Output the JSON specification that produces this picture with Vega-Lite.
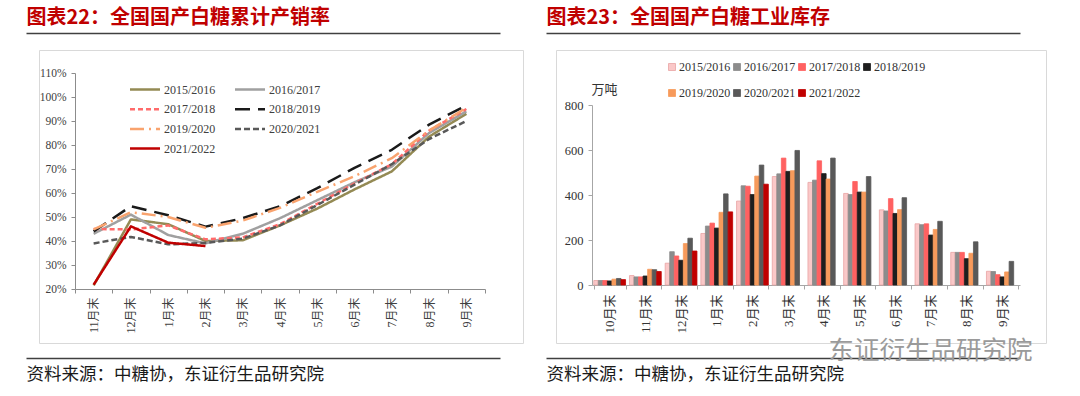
{
  "$schema": "https://vega.github.io/schema/vega-lite/v6.json",
  "background": "white",
  "padding": {"left": 22, "top": 6, "right": 5, "bottom": 5},
  "autosize": {"type": "pad"},
  "bounds": "flush",
  "spacing": 33,
  "resolve": {
    "scale": {"color": "independent", "stroke": "independent", "strokeDash": "independent", "strokeWidth": "independent"},
    "legend": {"color": "independent", "stroke": "independent", "strokeDash": "independent", "strokeWidth": "independent"}
  },
  "config": {
    "view": {"stroke": "#D9D9D9", "strokeWidth": 1},
    "axis": {"grid": false, "labelFont": "Liberation Serif", "titleFont": "Noto Sans CJK SC", "domainColor": "#8c8c8c", "tickColor": "#8c8c8c", "labelColor": "#404040", "tickSize": 4}
  },
  "datasets": {
    "rng": [{"r": 0}, {"r": 1}],
    "line": [
      {"s": "2015/2016", "m": "11月末", "v": 21.5}, {"s": "2015/2016", "m": "12月末", "v": 49}, {"s": "2015/2016", "m": "1月末", "v": 47}, {"s": "2015/2016", "m": "2月末", "v": 40}, {"s": "2015/2016", "m": "3月末", "v": 40.3}, {"s": "2015/2016", "m": "4月末", "v": 46.5}, {"s": "2015/2016", "m": "5月末", "v": 53.5}, {"s": "2015/2016", "m": "6月末", "v": 61.5}, {"s": "2015/2016", "m": "7月末", "v": 69}, {"s": "2015/2016", "m": "8月末", "v": 83.5}, {"s": "2015/2016", "m": "9月末", "v": 93},
      {"s": "2016/2017", "m": "11月末", "v": 43}, {"s": "2016/2017", "m": "12月末", "v": 51}, {"s": "2016/2017", "m": "1月末", "v": 42.5}, {"s": "2016/2017", "m": "2月末", "v": 39}, {"s": "2016/2017", "m": "3月末", "v": 43}, {"s": "2016/2017", "m": "4月末", "v": 49.5}, {"s": "2016/2017", "m": "5月末", "v": 57}, {"s": "2016/2017", "m": "6月末", "v": 64.5}, {"s": "2016/2017", "m": "7月末", "v": 71}, {"s": "2016/2017", "m": "8月末", "v": 85}, {"s": "2016/2017", "m": "9月末", "v": 94},
      {"s": "2017/2018", "m": "11月末", "v": 45}, {"s": "2017/2018", "m": "12月末", "v": 44.8}, {"s": "2017/2018", "m": "1月末", "v": 46.5}, {"s": "2017/2018", "m": "2月末", "v": 40.7}, {"s": "2017/2018", "m": "3月末", "v": 41.5}, {"s": "2017/2018", "m": "4月末", "v": 47}, {"s": "2017/2018", "m": "5月末", "v": 55.5}, {"s": "2017/2018", "m": "6月末", "v": 64}, {"s": "2017/2018", "m": "7月末", "v": 72}, {"s": "2017/2018", "m": "8月末", "v": 86}, {"s": "2017/2018", "m": "9月末", "v": 95},
      {"s": "2018/2019", "m": "11月末", "v": 44}, {"s": "2018/2019", "m": "12月末", "v": 54.5}, {"s": "2018/2019", "m": "1月末", "v": 50.7}, {"s": "2018/2019", "m": "2月末", "v": 46}, {"s": "2018/2019", "m": "3月末", "v": 49.5}, {"s": "2018/2019", "m": "4月末", "v": 54.5}, {"s": "2018/2019", "m": "5月末", "v": 62}, {"s": "2018/2019", "m": "6月末", "v": 70.5}, {"s": "2018/2019", "m": "7月末", "v": 78}, {"s": "2018/2019", "m": "8月末", "v": 88.5}, {"s": "2018/2019", "m": "9月末", "v": 96.5},
      {"s": "2019/2020", "m": "11月末", "v": 44.8}, {"s": "2019/2020", "m": "12月末", "v": 52}, {"s": "2019/2020", "m": "1月末", "v": 50}, {"s": "2019/2020", "m": "2月末", "v": 45.5}, {"s": "2019/2020", "m": "3月末", "v": 48.5}, {"s": "2019/2020", "m": "4月末", "v": 53.8}, {"s": "2019/2020", "m": "5月末", "v": 60.5}, {"s": "2019/2020", "m": "6月末", "v": 67}, {"s": "2019/2020", "m": "7月末", "v": 74.5}, {"s": "2019/2020", "m": "8月末", "v": 86}, {"s": "2019/2020", "m": "9月末", "v": 95.5},
      {"s": "2020/2021", "m": "11月末", "v": 39}, {"s": "2020/2021", "m": "12月末", "v": 41.7}, {"s": "2020/2021", "m": "1月末", "v": 38.6}, {"s": "2020/2021", "m": "2月末", "v": 39.2}, {"s": "2020/2021", "m": "3月末", "v": 41}, {"s": "2020/2021", "m": "4月末", "v": 46.5}, {"s": "2020/2021", "m": "5月末", "v": 55}, {"s": "2020/2021", "m": "6月末", "v": 63.5}, {"s": "2020/2021", "m": "7月末", "v": 72}, {"s": "2020/2021", "m": "8月末", "v": 82.5}, {"s": "2020/2021", "m": "9月末", "v": 90},
      {"s": "2021/2022", "m": "11月末", "v": 21.8}, {"s": "2021/2022", "m": "12月末", "v": 46.1}, {"s": "2021/2022", "m": "1月末", "v": 39.3}, {"s": "2021/2022", "m": "2月末", "v": 37.9}
    ],
    "bar": [
      {"s": "2015/2016", "m": "10月末", "v": 20}, {"s": "2016/2017", "m": "10月末", "v": 20}, {"s": "2017/2018", "m": "10月末", "v": 20}, {"s": "2018/2019", "m": "10月末", "v": 18}, {"s": "2019/2020", "m": "10月末", "v": 26}, {"s": "2020/2021", "m": "10月末", "v": 29}, {"s": "2021/2022", "m": "10月末", "v": 24},
      {"s": "2015/2016", "m": "11月末", "v": 42}, {"s": "2016/2017", "m": "11月末", "v": 36}, {"s": "2017/2018", "m": "11月末", "v": 36}, {"s": "2018/2019", "m": "11月末", "v": 40}, {"s": "2019/2020", "m": "11月末", "v": 70}, {"s": "2020/2021", "m": "11月末", "v": 68}, {"s": "2021/2022", "m": "11月末", "v": 60},
      {"s": "2015/2016", "m": "12月末", "v": 97}, {"s": "2016/2017", "m": "12月末", "v": 148}, {"s": "2017/2018", "m": "12月末", "v": 129}, {"s": "2018/2019", "m": "12月末", "v": 110}, {"s": "2019/2020", "m": "12月末", "v": 184}, {"s": "2020/2021", "m": "12月末", "v": 208}, {"s": "2021/2022", "m": "12月末", "v": 151},
      {"s": "2015/2016", "m": "1月末", "v": 229}, {"s": "2016/2017", "m": "1月末", "v": 262}, {"s": "2017/2018", "m": "1月末", "v": 275}, {"s": "2018/2019", "m": "1月末", "v": 253}, {"s": "2019/2020", "m": "1月末", "v": 323}, {"s": "2020/2021", "m": "1月末", "v": 405}, {"s": "2021/2022", "m": "1月末", "v": 325},
      {"s": "2015/2016", "m": "2月末", "v": 373}, {"s": "2016/2017", "m": "2月末", "v": 441}, {"s": "2017/2018", "m": "2月末", "v": 439}, {"s": "2018/2019", "m": "2月末", "v": 402}, {"s": "2019/2020", "m": "2月末", "v": 484}, {"s": "2020/2021", "m": "2月末", "v": 533}, {"s": "2021/2022", "m": "2月末", "v": 448},
      {"s": "2015/2016", "m": "3月末", "v": 482}, {"s": "2016/2017", "m": "3月末", "v": 494}, {"s": "2017/2018", "m": "3月末", "v": 564}, {"s": "2018/2019", "m": "3月末", "v": 505}, {"s": "2019/2020", "m": "3月末", "v": 508}, {"s": "2020/2021", "m": "3月末", "v": 598},
      {"s": "2015/2016", "m": "4月末", "v": 456}, {"s": "2016/2017", "m": "4月末", "v": 466}, {"s": "2017/2018", "m": "4月末", "v": 552}, {"s": "2018/2019", "m": "4月末", "v": 495}, {"s": "2019/2020", "m": "4月末", "v": 471}, {"s": "2020/2021", "m": "4月末", "v": 564},
      {"s": "2015/2016", "m": "5月末", "v": 407}, {"s": "2016/2017", "m": "5月末", "v": 402}, {"s": "2017/2018", "m": "5月末", "v": 460}, {"s": "2018/2019", "m": "5月末", "v": 413}, {"s": "2019/2020", "m": "5月末", "v": 413}, {"s": "2020/2021", "m": "5月末", "v": 482},
      {"s": "2015/2016", "m": "6月末", "v": 334}, {"s": "2016/2017", "m": "6月末", "v": 329}, {"s": "2017/2018", "m": "6月末", "v": 384}, {"s": "2018/2019", "m": "6月末", "v": 318}, {"s": "2019/2020", "m": "6月末", "v": 335}, {"s": "2020/2021", "m": "6月末", "v": 388},
      {"s": "2015/2016", "m": "7月末", "v": 272}, {"s": "2016/2017", "m": "7月末", "v": 268}, {"s": "2017/2018", "m": "7月末", "v": 272}, {"s": "2018/2019", "m": "7月末", "v": 222}, {"s": "2019/2020", "m": "7月末", "v": 247}, {"s": "2020/2021", "m": "7月末", "v": 283},
      {"s": "2015/2016", "m": "8月末", "v": 145}, {"s": "2016/2017", "m": "8月末", "v": 145}, {"s": "2017/2018", "m": "8月末", "v": 145}, {"s": "2018/2019", "m": "8月末", "v": 117}, {"s": "2019/2020", "m": "8月末", "v": 141}, {"s": "2020/2021", "m": "8月末", "v": 192},
      {"s": "2015/2016", "m": "9月末", "v": 61}, {"s": "2016/2017", "m": "9月末", "v": 60}, {"s": "2017/2018", "m": "9月末", "v": 46}, {"s": "2018/2019", "m": "9月末", "v": 36}, {"s": "2019/2020", "m": "9月末", "v": 58}, {"s": "2020/2021", "m": "9月末", "v": 105}
    ]
  },
  "hconcat": [
    {
      "width": 484,
      "height": 293,
      "resolve": {"scale": {"x": "independent", "y": "independent"}, "axis": {"x": "independent", "y": "independent"}},
      "layer": [
        {
          "data": {"name": "line"},
          "mark": {"type": "line", "strokeJoin": "round"},
          "encoding": {
            "x": {
              "field": "m", "type": "nominal", "bandPosition": 0.5,
              "sort": ["11月末", "12月末", "1月末", "2月末", "3月末", "4月末", "5月末", "6月末", "7月末", "8月末", "9月末"],
              "scale": {"type": "band", "range": [36, 446], "paddingInner": 0, "paddingOuter": 0},
              "axis": {"orient": "bottom", "offset": -54, "title": null, "labelAngle": -90, "labelFont": "Liberation Serif, Noto Sans CJK SC", "labelFontSize": 12, "tickBand": "extent", "labelPadding": 4}
            },
            "y": {
              "field": "v", "type": "quantitative",
              "scale": {"domain": [20, 110], "range": [239, 23], "nice": false, "zero": false},
              "axis": {"orient": "left", "offset": -36, "title": null, "values": [20, 30, 40, 50, 60, 70, 80, 90, 100, 110], "labelExpr": "datum.value + '%'", "labelFontSize": 11.5, "labelPadding": 5}
            },
            "color": {
              "field": "s", "type": "nominal",
              "scale": {"domain": ["2015/2016", "2016/2017", "2017/2018", "2018/2019", "2019/2020", "2020/2021", "2021/2022"], "range": ["#948A54", "#A0A0A0", "#FF6B6B", "#1A1A1A", "#F9A36E", "#595959", "#C00000"]},
              "legend": {"title": null, "orient": "none", "legendX": 97, "legendY": 30.5, "columns": 2, "direction": "horizontal", "symbolType": "M-2,0H2", "symbolSize": 225, "labelOffset": 10, "labelFontSize": 12, "labelFont": "Liberation Serif", "labelColor": "#404040", "columnPadding": 14, "rowPadding": 4.7}
            },
            "strokeDash": {
              "field": "s", "type": "nominal",
              "scale": {"domain": ["2015/2016", "2016/2017", "2017/2018", "2018/2019", "2019/2020", "2020/2021", "2021/2022"], "range": [[1, 0], [1, 0], [5, 3], [15, 8], [14, 5, 2, 5], [6, 3], [1, 0]]}
            },
            "strokeWidth": {
              "field": "s", "type": "nominal",
              "scale": {"domain": ["2015/2016", "2016/2017", "2017/2018", "2018/2019", "2019/2020", "2020/2021", "2021/2022"], "range": [2.5, 2.5, 2.5, 2.5, 2.5, 2.5, 3]}
            }
          }
        },
        {
          "data": {"name": "rng"},
          "mark": {"type": "point", "opacity": 0},
          "encoding": {
            "x": {
              "field": "r", "type": "quantitative",
              "scale": {"domain": [0, 1], "range": [-13, 461], "nice": false, "zero": false},
              "axis": {"orient": "top", "offset": 17, "domain": true, "domainColor": "#404040", "domainWidth": 1.5, "ticks": false, "labels": false, "title": "图表22：全国国产白糖累计产销率", "titleAnchor": "start", "titleColor": "#C00000", "titleFont": "Noto Sans CJK SC", "titleFontSize": 20, "titleFontWeight": "bold", "titlePadding": 6}
            }
          }
        },
        {
          "data": {"name": "rng"},
          "mark": {"type": "point", "opacity": 0},
          "encoding": {
            "x": {
              "field": "r", "type": "quantitative",
              "scale": {"domain": [0, 1], "range": [-13, 461], "nice": false, "zero": false},
              "axis": {"orient": "bottom", "offset": 15, "domain": true, "domainColor": "#404040", "domainWidth": 1.5, "ticks": false, "labels": false, "title": "资料来源：中糖协，东证衍生品研究院", "titleAnchor": "start", "titleColor": "#1a1a1a", "titleFont": "Noto Sans CJK SC", "titleFontSize": 17.5, "titleFontWeight": "normal", "titlePadding": 7}
            }
          }
        }
      ]
    },
    {
      "width": 490,
      "height": 293,
      "resolve": {"scale": {"x": "independent", "y": "independent"}, "axis": {"x": "independent", "y": "independent"}},
      "layer": [
        {
          "data": {"name": "bar"},
          "mark": {"type": "bar", "strokeWidth": 0.8},
          "encoding": {
            "x": {
              "field": "m", "type": "nominal",
              "sort": ["10月末", "11月末", "12月末", "1月末", "2月末", "3月末", "4月末", "5月末", "6月末", "7月末", "8月末", "9月末"],
              "scale": {"type": "band", "range": [36, 464], "paddingInner": 0.11, "paddingOuter": 0.05},
              "axis": {"orient": "bottom", "offset": -58, "title": null, "labelAngle": -90, "labelFont": "Liberation Serif, Noto Sans CJK SC", "labelFontSize": 13, "tickBand": "extent", "domainColor": "#a6a6a6", "tickColor": "#a6a6a6", "labelColor": "#333333", "labelPadding": 5}
            },
            "xOffset": {
              "field": "s", "type": "nominal",
              "scale": {"domain": ["2015/2016", "2016/2017", "2017/2018", "2018/2019", "2019/2020", "2020/2021", "2021/2022"], "paddingInner": 0, "paddingOuter": 0}
            },
            "y": {
              "field": "v", "type": "quantitative",
              "scale": {"domain": [0, 800], "range": [235, 55], "nice": false, "zero": false},
              "axis": {"orient": "left", "offset": -36, "values": [0, 200, 400, 600, 800], "labelFontSize": 12.5, "labelPadding": 5, "labelColor": "#333333", "domainColor": "#a6a6a6", "tickColor": "#a6a6a6", "title": "万吨", "titleAngle": 0, "titleX": 12, "titleY": 39, "titleAlign": "center", "titleBaseline": "middle", "titleFontSize": 13, "titleFontWeight": "normal", "titleColor": "#333333"}
            },
            "color": {
              "field": "s", "type": "nominal",
              "scale": {"domain": ["2015/2016", "2016/2017", "2017/2018", "2018/2019", "2019/2020", "2020/2021", "2021/2022"], "range": ["#FAC8C8", "#8C8C8C", "#FF6161", "#1E1E1E", "#F79A5B", "#595959", "#C00000"]},
              "legend": {"title": null, "orient": "none", "legendX": 110, "legendY": 11, "columns": 4, "direction": "horizontal", "symbolType": "square", "symbolSize": 49, "labelOffset": 1, "labelFontSize": 12, "labelFont": "Liberation Serif", "labelColor": "#333333", "columnPadding": 0, "rowPadding": 14, "symbolStrokeWidth": 0.8}
            },
            "stroke": {
              "field": "s", "type": "nominal",
              "scale": {"domain": ["2015/2016", "2016/2017", "2017/2018", "2018/2019", "2019/2020", "2020/2021", "2021/2022"], "range": ["#E8A3A3", "#8C8C8C", "#FF6161", "#1E1E1E", "#F79A5B", "#595959", "#C00000"]},
              "legend": {"title": null, "orient": "none", "legendX": 110, "legendY": 11, "columns": 4, "direction": "horizontal", "symbolType": "square", "symbolSize": 49, "labelOffset": 1, "labelFontSize": 12, "labelFont": "Liberation Serif", "labelColor": "#333333", "columnPadding": 0, "rowPadding": 14, "symbolStrokeWidth": 0.8}
            }
          }
        },
        {
          "data": {"name": "rng"},
          "mark": {"type": "point", "opacity": 0},
          "encoding": {
            "x": {
              "field": "r", "type": "quantitative",
              "scale": {"domain": [0, 1], "range": [-10, 464], "nice": false, "zero": false},
              "axis": {"orient": "top", "offset": 17, "domain": true, "domainColor": "#404040", "domainWidth": 1.5, "ticks": false, "labels": false, "title": "图表23：全国国产白糖工业库存", "titleAnchor": "start", "titleColor": "#C00000", "titleFont": "Noto Sans CJK SC", "titleFontSize": 20, "titleFontWeight": "bold", "titlePadding": 6}
            }
          }
        },
        {
          "data": {"name": "rng"},
          "mark": {"type": "point", "opacity": 0},
          "encoding": {
            "x": {
              "field": "r", "type": "quantitative",
              "scale": {"domain": [0, 1], "range": [-10, 464], "nice": false, "zero": false},
              "axis": {"orient": "bottom", "offset": 15, "domain": true, "domainColor": "#404040", "domainWidth": 1.5, "ticks": false, "labels": false, "title": "资料来源：中糖协，东证衍生品研究院", "titleAnchor": "start", "titleColor": "#1a1a1a", "titleFont": "Noto Sans CJK SC", "titleFontSize": 17.5, "titleFontWeight": "normal", "titlePadding": 7}
            }
          }
        },
        {
          "data": {"name": "rng"},
          "mark": {"type": "point", "opacity": 0},
          "encoding": {
            "x": {
              "field": "r", "type": "quantitative",
              "scale": {"domain": [0, 1], "range": [270, 476], "nice": false, "zero": false},
              "axis": {"orient": "bottom", "offset": -5, "domain": false, "ticks": false, "labels": false, "title": "东证衍生品研究院", "titleAnchor": "end", "titleColor": "#9a9a9a", "titleFont": "Noto Sans CJK SC", "titleFontSize": 25.5, "titleFontWeight": "normal", "titlePadding": 0}
            }
          }
        }
      ]
    }
  ]
}
